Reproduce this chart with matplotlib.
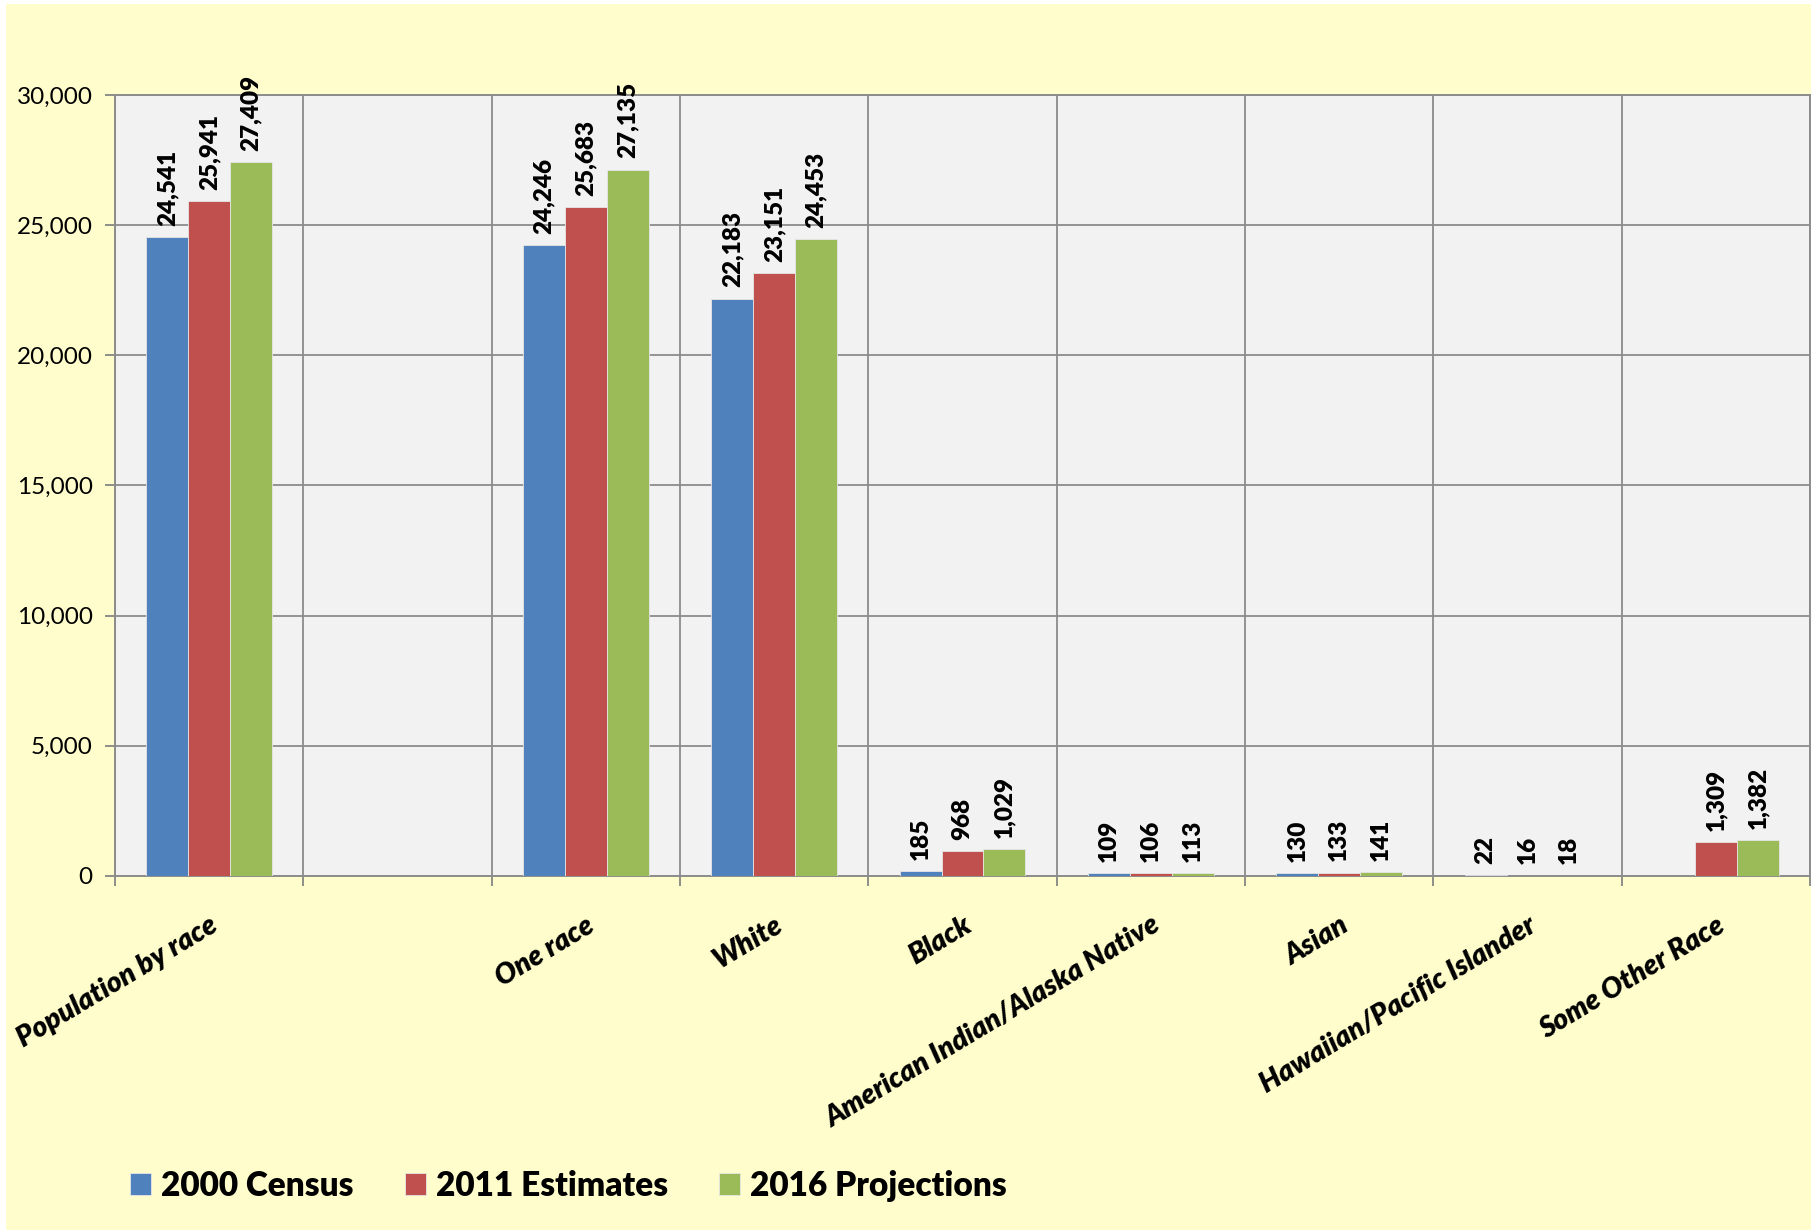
import numpy as np
import matplotlib
matplotlib.use('Agg')
import matplotlib.pyplot as plt
from matplotlib.patches import Rectangle

plt.rcParams['font.family'] = ['Lato', 'DejaVu Sans']

categories = ['Population by race', '', 'One race', 'White', 'Black',
              'American Indian/Alaska Native', 'Asian',
              'Hawaiian/Pacific Islander', 'Some Other Race']
census_2000 = [24541, np.nan, 24246, 22183, 185, 109, 130, 22, np.nan]
estimates_2011 = [25941, np.nan, 25683, 23151, 968, 106, 133, 16, 1309]
projections_2016 = [27409, np.nan, 27135, 24453, 1029, 113, 141, 18, 1382]
series_names = ['2000 Census', '2011 Estimates', '2016 Projections']
colors = ['#4F81BD', '#C0504D', '#9BBB59']

fig = plt.figure(figsize=(18.2, 12.32), dpi=100, facecolor='white')
# yellow chart area behind everything
fig.patches.append(Rectangle((6/1820, 2/1232), 1805/1820, 1226/1232,
                             transform=fig.transFigure, facecolor='#FFFDCC',
                             edgecolor='none', zorder=-10))
ax = fig.add_axes([115/1820, 1-876/1232, (1810-115)/1820, (876-95)/1232])
ax.set_facecolor('#F2F2F2')

x = np.arange(len(categories))
w = 0.222
for i, (vals, name, c) in enumerate(zip([census_2000, estimates_2011, projections_2016], series_names, colors)):
    pos = x + (i-1)*w
    bars = ax.bar(pos, vals, w, color=c, edgecolor='#e6e6e6', linewidth=0.6, label=name, zorder=3)
    for p, v in zip(pos, vals):
        if np.isnan(v):
            continue
        ax.annotate('{:,.0f}'.format(v), (p, v), xytext=(0, 8), textcoords='offset points',
                    rotation=90, ha='center', va='bottom', fontsize=17.5, fontweight='heavy')

ax.set_xlim(-0.5, len(categories)-0.5)
ax.set_ylim(0, 30000)
ax.set_yticks(np.arange(0, 30001, 5000))
ax.set_yticklabels(['{:,}'.format(t) for t in range(0, 30001, 5000)], fontsize=17.5)

# category boundaries carry ticks and gridlines, centres carry the labels
ax.set_xticks(np.arange(-0.5, len(categories), 1.0))
ax.set_xticklabels([])
ax.set_xticks(x, minor=True)
ax.set_xticklabels(categories, minor=True, rotation=31, ha='right', va='top',
                   rotation_mode='anchor', fontsize=20.5, fontweight='heavy', fontstyle='italic')
ax.tick_params(axis='x', which='minor', length=0, pad=26)
ax.tick_params(axis='x', which='major', length=7, width=1.3, color='#868686')
ax.tick_params(axis='y', length=7, width=1.3, color='#868686', pad=9)

ax.grid(True, which='major', color='#8C8C8C', linewidth=1.3, zorder=0)
ax.set_axisbelow(True)
for s in ax.spines.values():
    s.set_color('#8C8C8C')
    s.set_linewidth(1.4)

leg = fig.legend(loc='center left', bbox_to_anchor=(100/1820, 1-1186/1232), ncol=3,
                 frameon=False, handlelength=0.62, handleheight=0.62,
                 handletextpad=0.3, columnspacing=1.55,
                 prop={'size': 24, 'weight': 'heavy'})

fig.savefig('out.png', dpi=100, facecolor=fig.get_facecolor())
